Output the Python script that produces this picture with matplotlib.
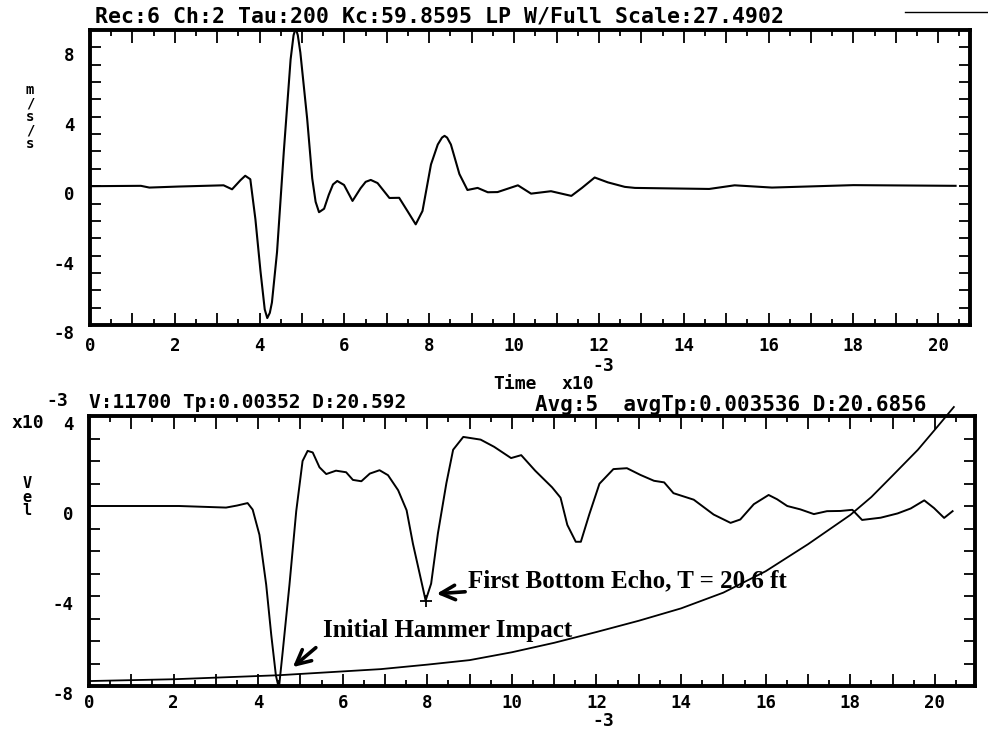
import matplotlib.pyplot as plt
from matplotlib.ticker import MultipleLocator, FuncFormatter
from matplotlib.transforms import ScaledTranslation
from matplotlib.lines import Line2D

plt.rcParams['axes.unicode_minus'] = False

# accelerometer record (m/s/s), time in ms
acc_t = [0, 1.2, 1.4, 2.1, 3.15, 3.35, 3.55, 3.66, 3.78, 3.9, 4.02, 4.12, 4.18, 4.24, 4.29,
         4.41, 4.57, 4.73, 4.8, 4.85, 4.9, 4.96, 5.12, 5.24, 5.32, 5.4, 5.52, 5.63, 5.73,
         5.83, 5.99, 6.19, 6.38, 6.5, 6.62, 6.78, 7.06, 7.29, 7.49, 7.68, 7.84, 8.04,
         8.2, 8.3, 8.36, 8.42, 8.51, 8.71, 8.9, 9.14, 9.38, 9.61, 10.09, 10.4, 10.87,
         11.35, 11.6, 11.9, 12.21, 12.61, 12.85, 13.71, 14.6, 15.2, 16.08, 18.0, 20.41]
acc_v = [0.0, 0.02, -0.08, -0.02, 0.05, -0.18, 0.35, 0.6, 0.4, -1.9, -4.9, -7.1, -7.6, -7.3,
         -6.7, -3.8, 2.0, 7.3, 8.7, 9.1, 8.7, 7.7, 3.9, 0.45, -0.9, -1.5, -1.3, -0.5, 0.1,
         0.3, 0.07, -0.85, -0.12, 0.25, 0.36, 0.18, -0.68, -0.67, -1.45, -2.2, -1.43, 1.25,
         2.4, 2.8, 2.9, 2.8, 2.4, 0.7, -0.22, -0.1, -0.35, -0.34, 0.05, -0.43, -0.29,
         -0.56, -0.1, 0.5, 0.22, -0.04, -0.1, -0.13, -0.16, 0.05, -0.08, 0.06, 0.02]

# integrated velocity (x10^-3)
vel_t = [0, 2.13, 3.24, 3.5, 3.75, 3.87, 4.03, 4.19, 4.31, 4.42, 4.49, 4.58, 4.74, 4.9,
         5.05, 5.17, 5.29, 5.45, 5.61, 5.84, 6.08, 6.24, 6.44, 6.64, 6.87, 7.07, 7.31,
         7.51, 7.66, 7.82, 7.96, 8.09, 8.25, 8.45, 8.61, 8.85, 9.26, 9.58, 9.98, 10.22,
         10.55, 10.95, 11.15, 11.31, 11.51, 11.63, 11.83, 12.07, 12.4, 12.72, 13.04,
         13.36, 13.6, 13.82, 14.3, 14.77, 15.17, 15.4, 15.72, 16.07, 16.27, 16.51,
         16.82, 17.14, 17.45, 17.77, 18.05, 18.28, 18.72, 19.12, 19.43, 19.75, 19.98,
         20.22, 20.42]
vel_v = [0.0, 0.0, -0.07, 0.02, 0.13, -0.16, -1.28, -3.5, -5.74, -7.54, -8.1, -6.48, -3.5,
         -0.23, 2.0, 2.45, 2.38, 1.72, 1.42, 1.57, 1.5, 1.16, 1.1, 1.44, 1.59, 1.37, 0.7,
         -0.19, -1.68, -3.02, -4.2, -3.45, -1.22, 1.01, 2.5, 3.07, 2.95, 2.63, 2.13, 2.26,
         1.57, 0.83, 0.37, -0.84, -1.59, -1.59, -0.37, 0.99, 1.64, 1.68, 1.38,
         1.12, 1.05, 0.57, 0.28, -0.38, -0.75, -0.6, 0.08, 0.49, 0.3, 0.0,
         -0.15, -0.36, -0.23, -0.22, -0.17, -0.62, -0.52, -0.33, -0.11, 0.25, -0.09,
         -0.53, -0.23]

# amplification curve
amp_t = [0, 2, 4.5, 6.9, 8.0, 9.0, 10.0, 11.0, 12.0, 13.0, 14.0, 15.0, 16.0, 17.0, 18.0,
         18.5, 19.0, 19.6, 20.05, 20.45]
amp_v = [-7.78, -7.7, -7.52, -7.25, -7.05, -6.85, -6.5, -6.08, -5.6, -5.1, -4.55, -3.85,
         -2.9, -1.7, -0.4, 0.4, 1.35, 2.5, 3.5, 4.4]

echo_t, echo_v = 7.96, -4.2

W, H = 988, 734
mono = dict(family='DejaVu Sans Mono', weight='bold')
serif = dict(family='Liberation Serif', weight='bold')

fig = plt.figure(figsize=(W / 100, H / 100), dpi=100)
ax1 = fig.add_axes([90 / W, 1 - 325 / H, 880 / W, 295 / H])
ax2 = fig.add_axes([89 / W, 1 - 686 / H, 886 / W, 270 / H])


def even_only(v, pos):
    n = int(round(v))
    return str(n) if n % 2 == 0 else ''


def style(ax, xmax, ylo, yhi, xpad):
    ax.set_xlim(0, xmax)
    ax.set_ylim(ylo, yhi)
    for s in ax.spines.values():
        s.set_linewidth(2.8)
    ax.xaxis.set_major_locator(MultipleLocator(1))
    ax.xaxis.set_minor_locator(MultipleLocator(0.5))
    ax.xaxis.set_major_formatter(FuncFormatter(even_only))
    ax.yaxis.set_major_locator(MultipleLocator(4))
    ax.yaxis.set_minor_locator(MultipleLocator(1))
    ax.tick_params(axis='x', which='major', direction='in', length=9, width=1.3,
                   top=True, pad=xpad)
    ax.tick_params(axis='x', which='minor', direction='in', length=4.5, width=1.3, top=True)
    ax.tick_params(axis='y', which='both', direction='in', length=8, width=1.3,
                   right=True, pad=11)
    for lab in ax.get_xticklabels() + ax.get_yticklabels():
        lab.set_fontfamily(mono['family'])
        lab.set_fontweight('bold')
        lab.set_fontsize(12.5)
    for lab in ax.get_yticklabels():
        lab.set_transform(lab.get_transform() +
                          ScaledTranslation(0, -5 / 72, fig.dpi_scale_trans))


style(ax1, 20.75, -8, 9, 9)
style(ax2, 20.95, -8, 4, 6)

ax1.plot(acc_t, acc_v, color='black', lw=1.5)
ax2.plot(vel_t, vel_v, color='black', lw=1.4)
ax2.plot(amp_t, amp_v, color='black', lw=1.3, clip_on=False)
ax2.plot([echo_t], [echo_v], marker='+', color='black', ms=8, mew=1.3)

ax2.annotate('First Bottom Echo, T = 20.6 ft', xy=(8.22, -3.9), xytext=(8.96, -3.6),
             fontsize=18, va='baseline', ha='left', **serif,
             arrowprops=dict(arrowstyle='->', color='black', lw=2.6,
                             mutation_scale=26, shrinkA=0, shrinkB=0))
ax2.annotate('Initial Hammer Impact', xy=(4.82, -7.16), xytext=(5.53, -5.81),
             fontsize=18, va='baseline', ha='left', **serif,
             arrowprops=dict(arrowstyle='->', color='black', lw=2.6,
                             mutation_scale=26, shrinkA=4, shrinkB=0,
                             relpos=(0.0, 0.0)))


def ftext(x, y, s, ha='left', size=13, **kw):
    fig.text(x / W, 1 - y / H, s, ha=ha, va='center', fontsize=size, **mono, **kw)


ftext(95, 17, 'Rec:6 Ch:2 Tau:200 Kc:59.8595 LP W/Full Scale:27.4902', size=15.5)
ftext(57, 401, '-3', ha='center')
ftext(89, 402, 'V:11700 Tp:0.00352 D:20.592', size=14)
ftext(535, 405, 'Avg:5  avgTp:0.003536 D:20.6856', size=15)
ftext(28, 423, 'x10', ha='center')
ftext(603, 366, '-3', ha='center')
ftext(515, 384, 'Time', ha='center')
ftext(578, 384, 'x10', ha='center')
ftext(603, 721, '-3', ha='center')
ftext(30, 117, 'm\n/\ns\n/\ns', ha='center', size=10, linespacing=0.95)
ftext(27, 497, 'V\ne\nl', ha='center', size=11, linespacing=0.9)

fig.add_artist(Line2D([905 / W, 1.0], [1 - 12 / H, 1 - 12 / H], color='black', lw=1.0))

fig.savefig('out.png', dpi=100, facecolor='white')
